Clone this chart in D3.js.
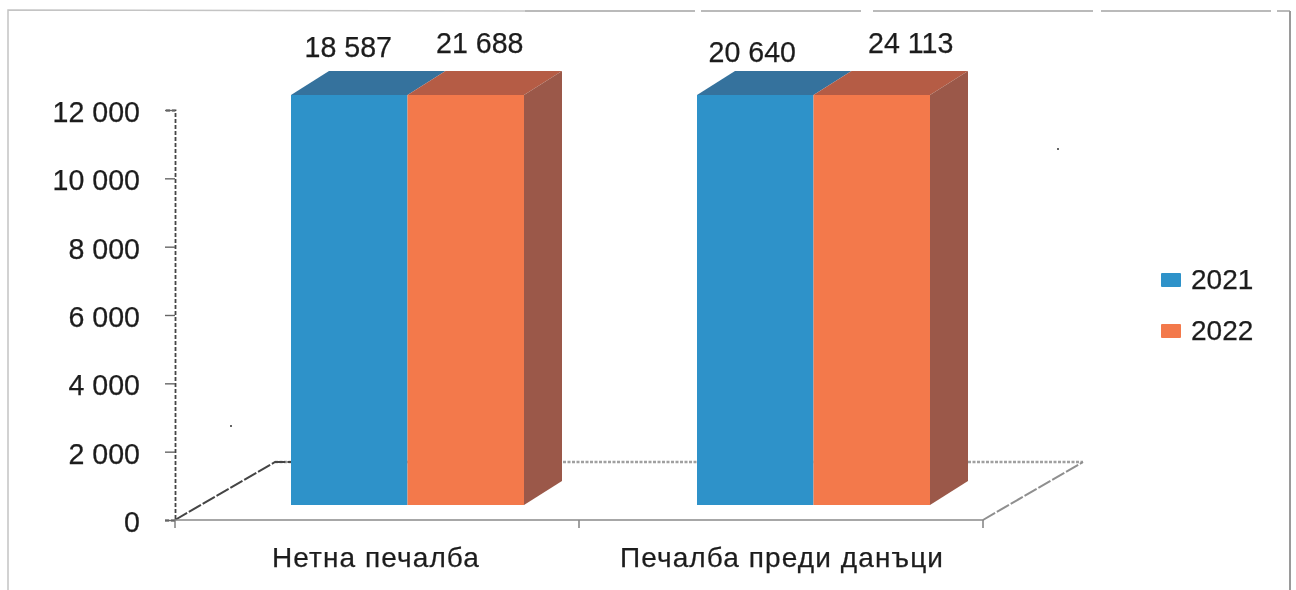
<!DOCTYPE html>
<html><head><meta charset="utf-8">
<script src="https://cdnjs.cloudflare.com/ajax/libs/d3/7.8.5/d3.min.js"></script>
<style>html,body{margin:0;padding:0;background:#fff;overflow:hidden}text{font-family:"Liberation Sans",Arial,sans-serif;fill:#1f1f1f;stroke:#1f1f1f;stroke-width:.25px}</style>
</head><body><svg id="c" width="1296" height="590"></svg>
<script>
const categories = ["Нетна печалба", "Печалба преди данъци"];
const seriesNames = ["2021", "2022"];
const values2021 = [18587, 20640];
const values2022 = [21688, 24113];
const tickValues = [0, 2000, 4000, 6000, 8000, 10000, 12000];

const labelOffset = [[[0, -9], [0, -13]], [[0, -4], [0, -13]]];
const colors = {
  front: ["#2e92c9", "#f3794b"],
  top: ["#35729d", "#b55c45"],
  side: ["#9b5948", "#9b5948"]
};
const svg = d3.select("#c");
const defs = svg.append("defs");
defs.append("filter").attr("id", "scan").attr("x", "-2%").attr("y", "-2%").attr("width", "104%").attr("height", "104%")
  .append("feGaussianBlur").attr("stdDeviation", 0.35);
const root = svg.append("g").attr("filter", "url(#scan)");

const plot = { left: 175, right: 983, bottom: 520, top: 110 };
const floor = { dx: 100, dy: -58 };
const barDepth = { dx: 38, dy: -24 };
const barLift = { dx: 31.5, dy: -15 };

const x = d3.scaleBand().domain(categories).range([plot.left - 2, plot.right + 2]);
const xs = d3.scaleBand().domain(seriesNames).range([0, 233]);
const y = d3.scaleLinear().domain([0, 12000]).range([plot.bottom, plot.top]).clamp(true);
const fmt = v => d3.format(",")(v).replace(/,/g, " ");

// frame
const frame = root.append("g").attr("fill", "none");
frame.append("path").attr("d", d3.line()([[8, 590], [8, 10], [525, 11]])).attr("stroke", "#c4c4c4").attr("stroke-width", 1.5);
frame.append("path").attr("d", d3.line()([[525, 11], [1290, 11]])).attr("stroke", "#777").attr("stroke-width", 1.2).attr("stroke-dasharray", "170 6 160 12 220 8");
frame.append("path").attr("d", d3.line()([[1290, 11], [1290, 590]])).attr("stroke", "#9a9a9a").attr("stroke-width", 2);

// floor
const fl = root.append("g").attr("fill", "none");
fl.append("path").attr("d", d3.line()([[plot.left + floor.dx, plot.bottom + floor.dy], [plot.right + floor.dx, plot.bottom + floor.dy]]))
  .attr("stroke", "#a0a0a0").attr("stroke-width", 2.6).attr("stroke-dasharray", "3 1.5");
fl.append("path").attr("d", d3.line()([[plot.left, plot.bottom], [plot.left + floor.dx, plot.bottom + floor.dy], [plot.left + floor.dx + 16, plot.bottom + floor.dy]]))
  .attr("stroke", "#444").attr("stroke-width", 2).attr("stroke-dasharray", "14 2");
fl.append("path").attr("d", d3.line()([[plot.right, plot.bottom], [plot.right + floor.dx, plot.bottom + floor.dy]]))
  .attr("stroke", "#8f8f8f").attr("stroke-width", 2).attr("stroke-dasharray", "14 2");

// axes
const yAxis = root.append("g").attr("transform", `translate(${plot.left},0)`)
  .call(d3.axisLeft(y).tickValues(tickValues).tickFormat(fmt).tickSize(10).tickPadding(25));
yAxis.select(".domain").attr("stroke", "#444").attr("stroke-width", 1.8).attr("stroke-dasharray", "4 2");
yAxis.selectAll(".tick line").attr("stroke", "#666").attr("stroke-width", 1.4);
yAxis.selectAll(".tick text").attr("font-size", 28.6).attr("dy", "0.4em").attr("font-family", '"Liberation Sans",Arial,sans-serif');

const xAxis = root.append("g").attr("transform", `translate(0,${plot.bottom})`)
  .call(d3.axisBottom(x).tickSize(0).tickPadding(27));
xAxis.select(".domain").remove();
xAxis.selectAll(".tick text").attr("font-size", 28).attr("letter-spacing", 1.1).attr("font-family", '"Liberation Sans",Arial,sans-serif');
const step = (plot.right - plot.left) / categories.length;
const edgeTicks = d3.range(categories.length + 1).map(i => plot.left + i * step);
root.append("g").selectAll("line").data(edgeTicks).join("line")
  .attr("x1", d => d).attr("x2", d => d).attr("y1", plot.bottom).attr("y2", plot.bottom + 8).attr("stroke", "#777").attr("stroke-width", 1.4);
root.append("path").attr("d", d3.line()([[plot.left, plot.bottom], [plot.right, plot.bottom]])).attr("stroke", "#8a8a8a").attr("stroke-width", 1.6).attr("fill", "none");

// bars
const rows = categories.flatMap((c, i) => [
  { c, i, s: 0, name: seriesNames[0], v: values2021[i] },
  { c, i, s: 1, name: seriesNames[1], v: values2022[i] }
]);
const center = c => x(c) + x.bandwidth() / 2 + barLift.dx;
const barX = d => center(d.c) - xs.range()[1] / 2 + xs(d.name);
const bars = root.append("g").selectAll("g").data(rows).join("g");
const poly = pts => d3.line()(pts) + "Z";
bars.append("path").attr("fill", d => colors.top[d.s]).attr("d", d => {
  const l = barX(d), r = l + xs.bandwidth(), t = y(d.v) + barLift.dy;
  return poly([[l, t], [r, t], [r + barDepth.dx, t + barDepth.dy], [l + barDepth.dx, t + barDepth.dy]]);
});
bars.filter(d => d.s === 1).append("path").attr("fill", d => colors.side[d.s]).attr("d", d => {
  const r = barX(d) + xs.bandwidth(), t = y(d.v) + barLift.dy, b = y(0) + barLift.dy;
  return poly([[r, t], [r + barDepth.dx, t + barDepth.dy], [r + barDepth.dx, b + barDepth.dy], [r, b]]);
});
bars.append("rect").attr("fill", d => colors.front[d.s])
  .attr("x", barX).attr("y", d => y(d.v) + barLift.dy)
  .attr("width", xs.bandwidth()).attr("height", d => y(0) - y(d.v));

// value labels
const labelDx = [[0, -1], [1, 39]];
root.append("g").selectAll("text").data(rows).join("text")
  .attr("text-anchor", "middle").attr("font-size", 28.6)
  .attr("x", d => barX(d) + xs.bandwidth() / 2)
  .attr("y", d => 66 + labelOffset[d.i][d.s][1])
  .attr("dx", d => [[-1, 14], [-3, 39]][d.i][d.s])
  .text(d => fmt(d.v));

// legend
const legend = root.append("g").selectAll("g").data(seriesNames).join("g")
  .attr("transform", (d, i) => `translate(1161,${280 + i * 51})`);
legend.append("rect").attr("y", -7).attr("width", 20).attr("height", 14).attr("rx", 1)
  .attr("fill", (d, i) => colors.front[i]);
legend.append("text").attr("x", 30).attr("dy", "0.33em").attr("font-size", 28).text(d => d);

// scan specks
root.append("g").selectAll("circle").data([[1058, 149], [231, 426]]).join("circle")
  .attr("cx", d => d[0]).attr("cy", d => d[1]).attr("r", 1).attr("fill", "#333");
</script></body></html>
